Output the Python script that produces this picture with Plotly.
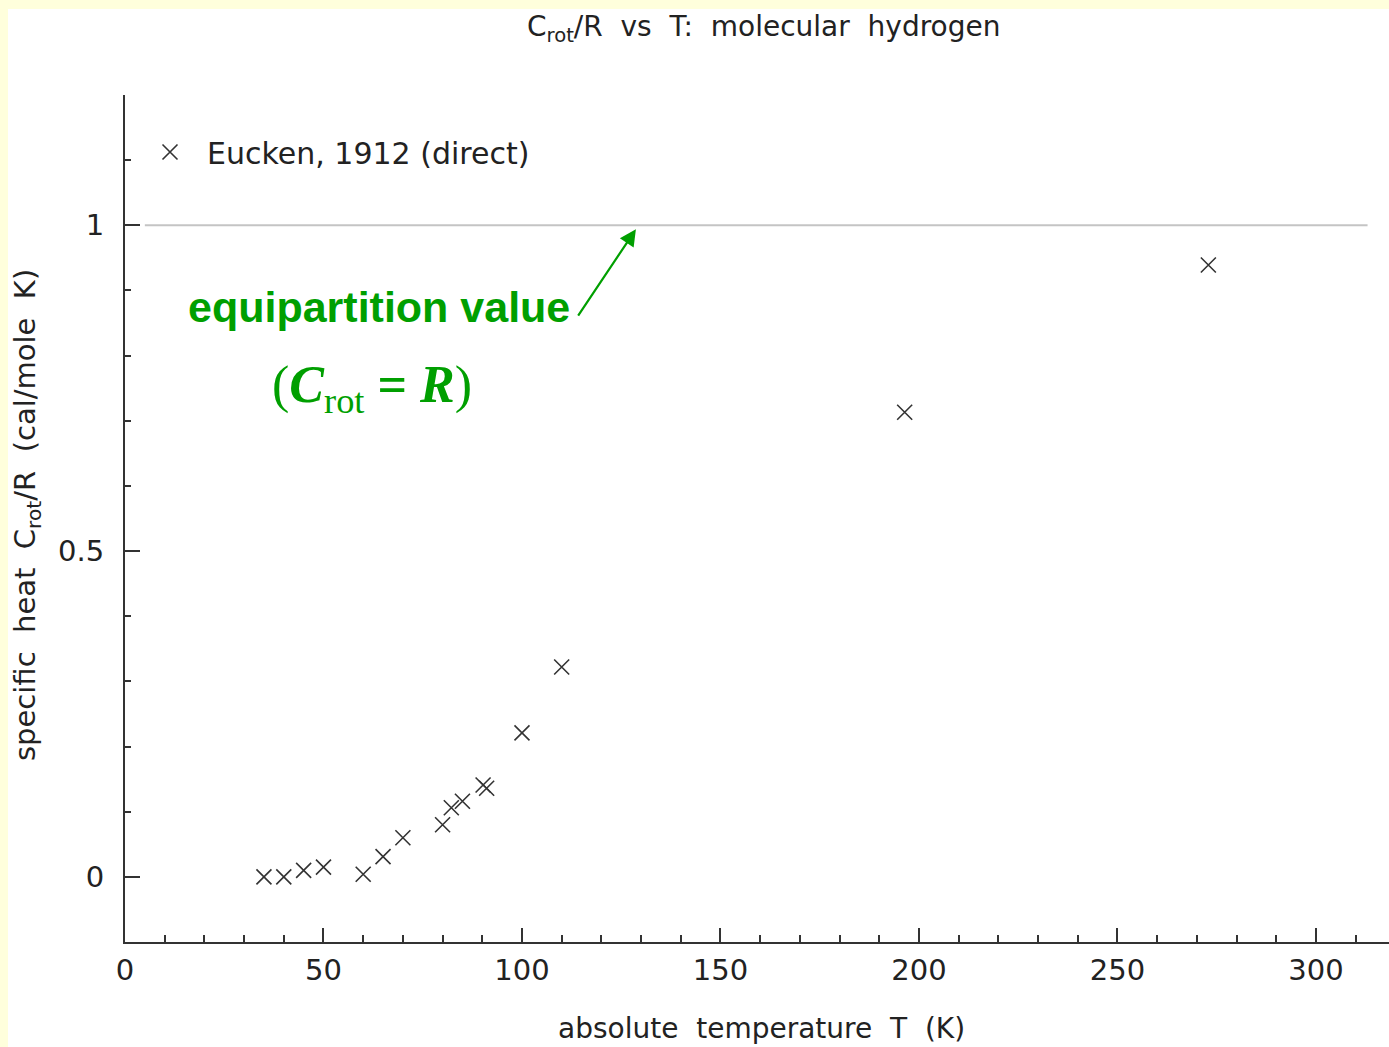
import plotly.graph_objects as go

# Data (Eucken, 1912, direct measurement)
T_vals = [35, 40, 45, 50, 60, 65, 70, 80, 82.2, 85, 90.2, 91.1, 100, 110, 196.4, 272.9]
C_vals = [0.0, 0.0, 0.010, 0.015, 0.004, 0.031, 0.060, 0.080, 0.106, 0.116, 0.141, 0.136, 0.221, 0.322, 0.713, 0.939]

equip_T = [5, 313]
equip_C = [1.0, 1.0]

x_ticks = [0, 50, 100, 150, 200, 250, 300]
y_ticks = [0, 0.5, 1]
y_tick_text = ["0", "0.5", "1"]

X_RANGE = [0, 318.4]
Y_RANGE = [-0.1, 1.2]

FONT = "DejaVu Sans"
TXT = "#222222"
AX = "#333333"
GREEN = "#009f00"

W, H = 1389, 1047
ML, MR, MT, MB = 125, 0, 95, 105
PW, PH = W - ML - MR, H - MT - MB


def px_x(px):
    return (px - ML) / PW


def px_y(py):
    return (H - MB - py) / PH


fig = go.Figure()

fig.add_trace(go.Scatter(
    x=equip_T, y=equip_C, mode="lines",
    line=dict(color="#c4c4c4", width=2),
    showlegend=False, hoverinfo="skip",
))

fig.add_trace(go.Scatter(
    x=T_vals, y=C_vals, mode="markers", name="Eucken, 1912 (direct)",
    marker=dict(symbol="x-thin-open", size=15, color="#333333",
                line=dict(color="#333333", width=1.6)),
))

fig.update_layout(
    width=W, height=H,
    margin=dict(l=ML, r=MR, t=MT, b=MB, pad=0),
    paper_bgcolor="#ffffdc",
    plot_bgcolor="white",
    font=dict(family=FONT, size=29, color=TXT),
    showlegend=True,
    legend=dict(
        x=px_x(133), y=px_y(126), xanchor="left", yanchor="top",
        bgcolor="rgba(0,0,0,0)", borderwidth=0,
        font=dict(family=FONT, size=30, color=TXT),
        itemwidth=64,
    ),
    xaxis=dict(
        range=X_RANGE, tickvals=x_ticks, ticks="inside", ticklen=14, tickwidth=2,
        tickcolor=AX, showline=True, linecolor=AX, linewidth=2, showgrid=False,
        zeroline=False, mirror=False,
        minor=dict(dtick=10, tick0=0, ticks="inside", ticklen=7, tickwidth=2, tickcolor=AX, showgrid=False),
        tickfont=dict(family=FONT, size=29, color=TXT),
        ticklabelstandoff=1,
    ),
    yaxis=dict(
        range=Y_RANGE, tickvals=y_ticks, ticktext=y_tick_text, ticks="inside", ticklen=15, tickwidth=2,
        tickcolor=AX, showline=True, linecolor=AX, linewidth=2, showgrid=False,
        zeroline=False, mirror=False,
        minor=dict(dtick=0.1, tick0=0, ticks="inside", ticklen=6, tickwidth=2, tickcolor=AX, showgrid=False),
        tickfont=dict(family=FONT, size=29, color=TXT),
        ticklabelstandoff=13,
    ),
    xaxis2=dict(
        overlaying="x", side="top", anchor="y", range=X_RANGE, tickvals=x_ticks,
        ticks="inside", ticklen=14, tickwidth=2, tickcolor=AX, showticklabels=False,
        showline=True, linecolor=AX, linewidth=2, showgrid=False, zeroline=False,
        minor=dict(dtick=10, tick0=0, ticks="inside", ticklen=7, tickwidth=2, tickcolor=AX, showgrid=False),
    ),
    yaxis2=dict(
        overlaying="y", side="right", anchor="x", range=Y_RANGE, tickvals=y_ticks,
        ticks="inside", ticklen=8, tickwidth=2, tickcolor=AX, showticklabels=False,
        showline=False, showgrid=False, zeroline=False,
        minor=dict(dtick=0.1, tick0=0, ticks="inside", ticklen=3, tickwidth=2, tickcolor=AX, showgrid=False),
    ),
)

# white page area inside the yellow border
fig.add_shape(type="rect", xref="paper", yref="paper", layer="below",
              x0=px_x(8), x1=px_x(W + 5), y0=px_y(H + 5), y1=px_y(9),
              fillcolor="white", line=dict(width=0))

# title and axis titles
fig.add_annotation(xref="paper", yref="paper", x=px_x(763), y=px_y(29),
                   text="C<sub>rot</sub>/R  vs  T:  molecular  hydrogen", showarrow=False,
                   xanchor="center", yanchor="middle", font=dict(family=FONT, size=28, color=TXT))
fig.add_annotation(xref="paper", yref="paper", x=px_x(761), y=px_y(1028),
                   text="absolute  temperature  T  (K)", showarrow=False,
                   xanchor="center", yanchor="middle", font=dict(family=FONT, size=28, color=TXT))
fig.add_annotation(xref="paper", yref="paper", x=px_x(27), y=px_y(515),
                   text="specific  heat  C<sub>rot</sub>/R  (cal/mole  K)", showarrow=False, textangle=-90,
                   xanchor="center", yanchor="middle", font=dict(family=FONT, size=29, color=TXT))

# green annotations
fig.add_annotation(xref="paper", yref="paper", x=px_x(379), y=px_y(307),
                   text="<b>equipartition value</b>", showarrow=False,
                   xanchor="center", yanchor="middle",
                   font=dict(family="Liberation Sans", size=43, color=GREEN))
fig.add_annotation(xref="paper", yref="paper", x=px_x(372), y=px_y(388),
                   text="(<b><i>C</i></b><sub>rot</sub> <b>=</b> <b><i>R</i></b>)", showarrow=False,
                   xanchor="center", yanchor="middle",
                   font=dict(family="Liberation Serif", size=52, color=GREEN))
fig.add_annotation(xref="x", yref="y", x=128.7, y=0.994, axref="x", ayref="y", ax=113.9, ay=0.859,
                   text="", showarrow=True, arrowhead=2, arrowsize=1.5, arrowwidth=2.2,
                   arrowcolor=GREEN, standoff=0)

fig.write_html(
    "out.html",
    config={"displayModeBar": False},
    post_script="document.body.style.margin='0';document.body.style.padding='0';"
                "document.body.style.overflow='hidden';document.body.style.background='#ffffdc';",
)
